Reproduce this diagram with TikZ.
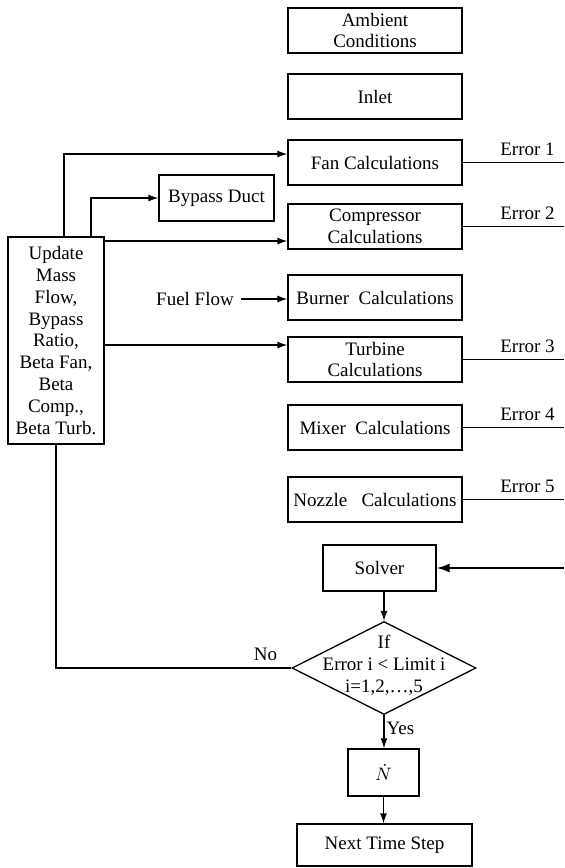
\documentclass[tikz,border=0pt]{standalone}
\usepackage{fontspec}
\setmainfont{Liberation Serif}
\usetikzlibrary{shapes.geometric,arrows.meta}

\begin{document}
\begin{tikzpicture}[x=0.5pt,y=-0.5pt,
  every node/.style={font=\fontsize{9.5}{10.9}\selectfont},
  calcbox/.style={draw, line width=0.65pt, minimum width=87pt, minimum height=22.5pt, inner sep=1pt, align=center},
  choice/.style={draw, diamond, line width=0.65pt, minimum width=92pt, minimum height=46.5pt, inner sep=0pt},
  arr/.style={-{Latex[length=5pt,width=3.5pt]}, line width=0.65pt},
  ln/.style={line width=0.65pt}]
\useasboundingbox (0,0) rectangle (564,868);

\def\xc{375}

\node[calcbox] (amb) at (\xc,30.5) {Ambient\\Conditions};
\node[calcbox] (inlet) at (\xc,96.5) {Inlet};
\node[calcbox] (fan) at (\xc,162.5) {Fan Calculations};
\node[calcbox] (comp) at (\xc,226.5) {Compressor\\Calculations};
\node[calcbox] (burner) at (\xc,297.5) {Burner~ Calculations};
\node[calcbox] (turb) at (\xc,359.5) {Turbine\\Calculations};
\node[calcbox] (mixer) at (\xc,427.5) {Mixer~ Calculations};
\node[calcbox] (nozzle) at (\xc,499.5) {Nozzle~~ Calculations};

\node[calcbox, minimum width=56.5pt, minimum height=23pt] (solver) at (379.5,568) {Solver};
\node[choice] (dec) at (384,668) {};
\node[align=center] (dectext) at (384,665) {If\\Error i < Limit i\\i=1,2,…,5};
\node[calcbox, minimum width=35.5pt, minimum height=23.5pt] (ndot) at (383.5,772.5) {$\dot{N}$};
\node[calcbox, minimum width=87.5pt, minimum height=21pt] (next) at (384.5,845) {Next Time Step};

\node[calcbox, minimum width=48pt, minimum height=103.5pt] (update) at (56,340.5)
  {Update\\Mass\\Flow,\\Bypass\\Ratio,\\Beta Fan,\\Beta\\Comp.,\\Beta Turb.};
\node[calcbox, minimum width=57.5pt, minimum height=23pt] (bypass) at (216.5,198) {Bypass Duct};
\node (fuel) at (195,299) {Fuel Flow};

\coordinate (rim) at (564,0);
\coordinate (sin) at (564,568);

\draw[ln] (fan.east) -- (fan.east -| rim) node[pos=0.64, above] {Error 1};
\draw[ln] (comp.east) -- (comp.east -| rim) node[pos=0.64, above] {Error 2};
\draw[ln] (turb.east) -- (turb.east -| rim) node[pos=0.64, above] {Error 3};
\draw[ln] (mixer.east) -- (mixer.east -| rim) node[pos=0.64, above] {Error 4};
\draw[ln] (nozzle.east) -- (nozzle.east -| rim) node[pos=0.64, above] {Error 5};
\draw[-{Latex[length=6.5pt,width=4.5pt]}, line width=1pt] (sin) -- (solver.east);

\draw[arr] ([xshift=4pt]update.north) |- ([yshift=4.25pt]fan.west);
\draw[arr] ([xshift=17.5pt]update.north) |- (bypass.west);
\draw[arr] ([yshift=-7.25pt]comp.west -| update.east) -- ([yshift=-7.25pt]comp.west);
\draw[arr] ([yshift=7.25pt]turb.west -| update.east) -- ([yshift=7.25pt]turb.west);
\draw[arr] (fuel.east) -- (fuel.east -| burner.west);

\draw[arr] (solver.south -| dec.north) -- (dec.north);
\draw[ln] (dec.west) -- node[pos=0.11, above] {No} (dec.west -| update.south) -- (update.south);
\draw[arr] (dec.south) -- node[pos=0.41, right, inner sep=1pt] {Yes} (dec.south |- ndot.north);
\draw[arr] (ndot.south) -- (ndot.south |- next.north);

\end{tikzpicture}
\end{document}
